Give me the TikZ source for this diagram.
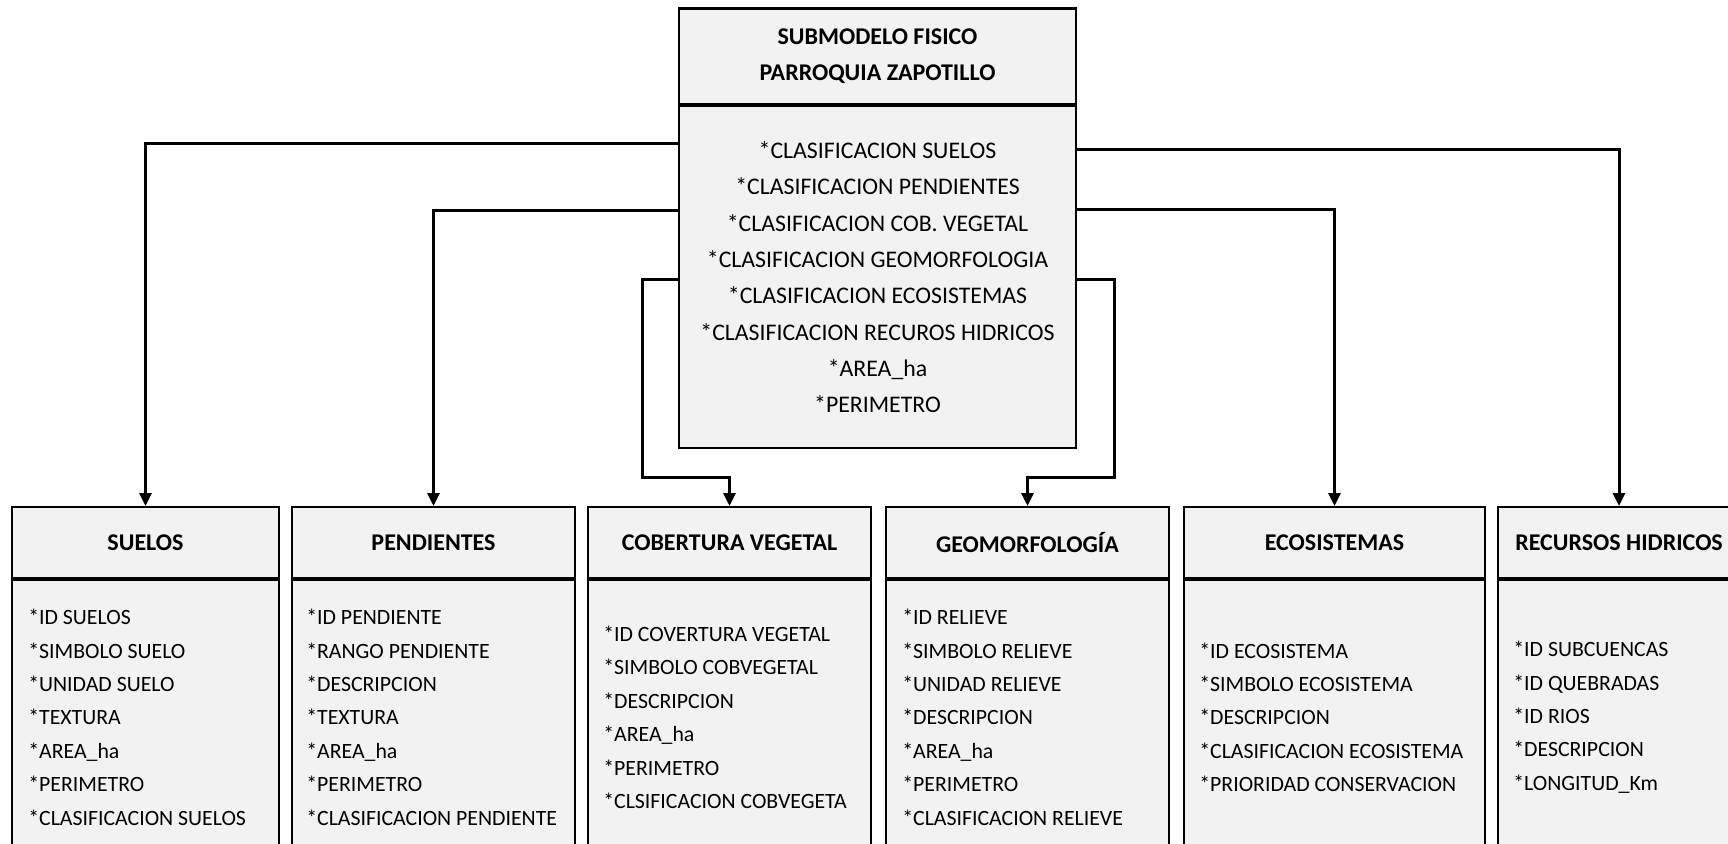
\documentclass[tikz,border=0pt]{standalone}
\usepackage{fontspec}
\setmainfont{Carlito}
\usetikzlibrary{arrows.meta,calc}

\definecolor{boxfill}{HTML}{F2F2F2}

\tikzset{
  frame/.style={draw=black, fill=boxfill, line width=1.1pt, inner sep=0pt},
  topbox/.style={frame, anchor=north, minimum width=198.5pt},
  hdr/.style={frame, anchor=north, minimum height=35.5pt,
    font=\bfseries\fontsize{12}{14}\selectfont},
  bdy/.style={frame, anchor=north, minimum height=137pt},
  fields/.style={anchor=west, align=left, inner sep=0pt,
    font=\fontsize{10.9}{16.7}\selectfont},
  divider/.style={line width=2pt},
  conn/.style={line width=1.5pt, -{Triangle[width=6pt,length=6.5pt]}},
}

\begin{document}
\begin{tikzpicture}[x=0.5pt,y=-0.5pt]
  % page area 1728 x 844 units, y grows downwards
  \useasboundingbox (0,0) rectangle (1728,844);
  \fill[white] (0,0) rectangle (1728,844);
  \clip (0,0) rectangle (1728,844);

  % main model box
  \node[topbox, minimum height=47.75pt, align=center,
        font=\bfseries\fontsize{12}{18}\selectfont] (tophead) at (877.5,7.5)
    {SUBMODELO FISICO\\PARROQUIA ZAPOTILLO};
  \node[topbox, minimum height=171pt, align=center,
        font=\fontsize{11.9}{18.15}\selectfont] (topbody) at (tophead.south)
    {*CLASIFICACION SUELOS\\
     *CLASIFICACION PENDIENTES\\
     *CLASIFICACION COB. VEGETAL\\
     *CLASIFICACION GEOMORFOLOGIA\\
     *CLASIFICACION ECOSISTEMAS\\
     *CLASIFICACION RECUROS HIDRICOS\\
     *AREA\_ha\\
     *PERIMETRO};
  \draw[divider] (tophead.south west) -- (tophead.south east);

  % entity tables: header, body and field list
  \node[hdr, minimum width=133.5pt] (suelosh) at (145.5,506) {SUELOS};
  \node[bdy, minimum width=133.5pt] (suelosb) at (suelosh.south) {};
  \node[fields] (suelost) at ($(suelosb.west)+(17,0)$)
    {*ID SUELOS\\*SIMBOLO SUELO\\*UNIDAD SUELO\\*TEXTURA\\*AREA\_ha\\*PERIMETRO\\*CLASIFICACION SUELOS};

  \node[hdr, minimum width=141.5pt] (pendh) at (433.5,506) {PENDIENTES};
  \node[bdy, minimum width=141.5pt] (pendb) at (pendh.south) {};
  \node[fields] (pendt) at ($(pendb.west)+(15,0)$)
    {*ID PENDIENTE\\*RANGO PENDIENTE\\*DESCRIPCION\\*TEXTURA\\*AREA\_ha\\*PERIMETRO\\*CLASIFICACION PENDIENTE};

  \node[hdr, minimum width=141.5pt] (cobh) at (729.5,506) {COBERTURA VEGETAL};
  \node[bdy, minimum width=141.5pt] (cobb) at (cobh.south) {};
  \node[fields] (cobt) at ($(cobb.west)+(16,0)$)
    {*ID COVERTURA VEGETAL\\*SIMBOLO COBVEGETAL\\*DESCRIPCION\\*AREA\_ha\\*PERIMETRO\\*CLSIFICACION COBVEGETA};

  \node[hdr, minimum width=141.5pt] (geomh) at (1027.5,506) {GEOMORFOLOGÍA};
  \node[bdy, minimum width=141.5pt] (geomb) at (geomh.south) {};
  \node[fields] (geomt) at ($(geomb.west)+(17,0)$)
    {*ID RELIEVE\\*SIMBOLO RELIEVE\\*UNIDAD RELIEVE\\*DESCRIPCION\\*AREA\_ha\\*PERIMETRO\\*CLASIFICACION RELIEVE};

  \node[hdr, minimum width=150.5pt] (ecosh) at (1334.5,506) {ECOSISTEMAS};
  \node[bdy, minimum width=150.5pt] (ecosb) at (ecosh.south) {};
  \node[fields] (ecost) at ($(ecosb.west)+(16,0)$)
    {*ID ECOSISTEMA\\*SIMBOLO ECOSISTEMA\\*DESCRIPCION\\*CLASIFICACION ECOSISTEMA\\*PRIORIDAD CONSERVACION};

  \node[hdr, minimum width=121pt] (rech) at (1619,506) {RECURSOS HIDRICOS};
  \node[bdy, minimum width=121pt] (recb) at (rech.south) {};
  \node[fields] (rect) at ($(recb.west)+(16,0)$)
    {*ID SUBCUENCAS\\*ID QUEBRADAS\\*ID RIOS\\*DESCRIPCION\\*LONGITUD\_Km};

  \foreach \h in {suelosh,pendh,cobh,geomh,ecosh,rech}
    \draw[divider] (\h.south west) -- (\h.south east);

  % connectors from the main model to each table
  \draw[conn] ($(topbody.north west)+(0,38)$) -| (suelosh.north);
  \draw[conn] ($(topbody.north west)+(0,105)$) -| (pendh.north);
  \draw[conn] ($(topbody.west)+(0,2)$) -- ++(-35,0)
    |- ($(cobh.north)+(0,-29)$) -- (cobh.north);
  \draw[conn] ($(topbody.east)+(0,2)$) -- ++(37,0)
    |- ($(geomh.north)+(0,-29)$) -- (geomh.north);
  \draw[conn] ($(topbody.north east)+(0,104)$) -| (ecosh.north);
  \draw[conn] ($(topbody.north east)+(0,44)$) -| (rech.north);
\end{tikzpicture}
\end{document}
